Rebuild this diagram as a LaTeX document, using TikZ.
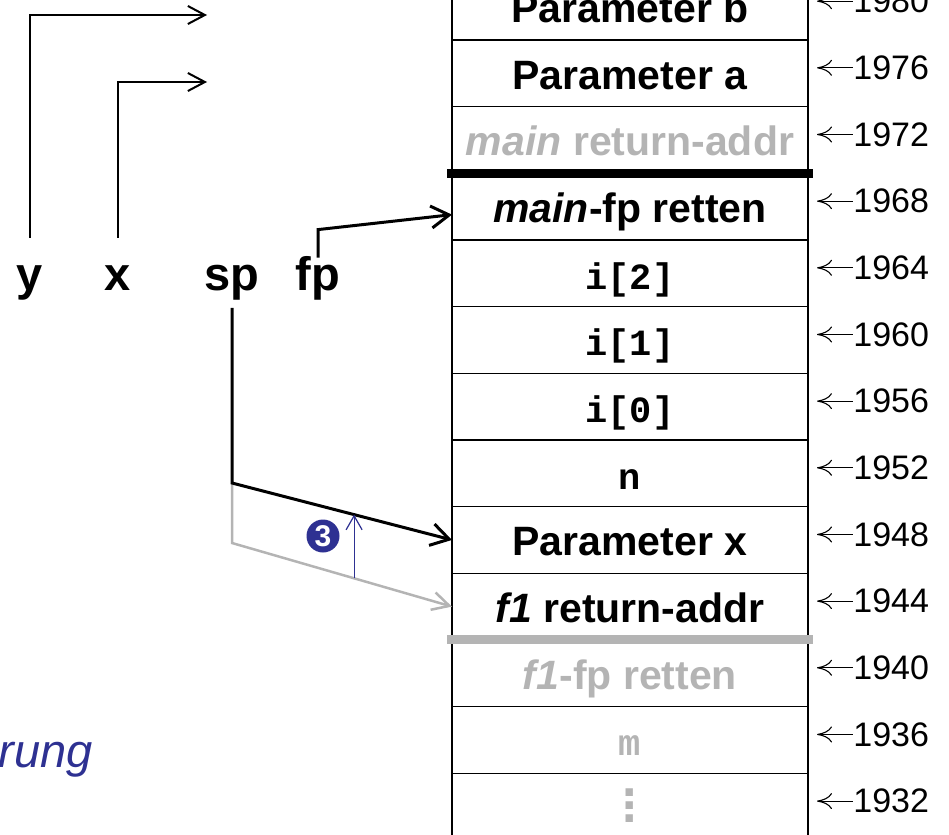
\documentclass[tikz,border=0pt]{standalone}
\usepackage{fontspec}
\setmainfont{Liberation Sans}
\setmonofont{Liberation Mono}
\usetikzlibrary{positioning,arrows.meta}

\definecolor{stackgray}{RGB}{180,180,180}
\definecolor{stepblue}{RGB}{46,49,146}

\newcommand{\stackdots}{\vbox{\baselineskip=6.5pt\lineskiplimit=-20pt\hbox{.}\hbox{.}\hbox{.}}}

\tikzset{
  cell/.style={draw, line width=0.75pt, minimum width=178pt, minimum height=33.33pt,
    inner sep=0pt, outer sep=0pt, text height=18pt, text depth=2pt,
    font=\fontsize{20.5}{24}\selectfont\bfseries},
  code/.style={cell, font=\fontsize{18.5}{22}\selectfont\ttfamily\bfseries},
  old/.style={text=stackgray},
  adr/.style={inner sep=0pt, font=\fontsize{17}{20}\selectfont},
  adrarrow/.style={line width=0.55pt, {Computer Modern Rightarrow[length=7.5pt,width=8pt]}-},
  var/.style={anchor=base, inner sep=3pt, text height=23pt, text depth=5.75pt,
    font=\fontsize{23.5}{28}\selectfont\bfseries},
  ptr/.style={line width=1pt, -{Straight Barb[length=8.5pt,width=9pt]}},
  bigptr/.style={line width=1.5pt, -{Straight Barb[length=9pt,width=11pt]}},
  stepmark/.style={circle, fill=stepblue, text=white, inner sep=0pt, minimum size=16.5pt,
    font=\fontsize{15}{15}\selectfont\bfseries},
  steparrow/.style={stepblue, line width=0.6pt, -{Straight Barb[length=7pt,width=8pt]}},
  note/.style={text=stepblue, inner sep=0pt, font=\fontsize{23.5}{28}\selectfont\itshape}
}

\begin{document}
\begin{tikzpicture}[x=0.5pt, y=-0.5pt]
\useasboundingbox (0,0) rectangle (949,835);

%% stack cells
\node[cell] (m1980) at (630,6.67) {Parameter b};
\node[cell, below=0pt of m1980] (m1976) {Parameter a};
\node[cell, old, below=0pt of m1976] (m1972) {\textit{main} return-addr};
\node[cell, below=0pt of m1972] (m1968) {\textit{main}-fp retten};
\node[code, below=0pt of m1968] (m1964) {i[2]};
\node[code, below=0pt of m1964] (m1960) {i[1]};
\node[code, below=0pt of m1960] (m1956) {i[0]};
\node[code, below=0pt of m1956] (m1952) {n};
\node[cell, below=0pt of m1952] (m1948) {Parameter x};
\node[cell, below=0pt of m1948] (m1944) {\textit{f1} return-addr};
\node[cell, old, below=0pt of m1944] (m1940) {\textit{f1}-fp retten};
\node[code, old, below=0pt of m1940] (m1936) {m};
\node[cell, old, below=0pt of m1936, font=\fontsize{26}{26}\selectfont\bfseries] (m1932) {\stackdots};

% frame borders
\draw[line width=4.5pt] ([xshift=-2.5pt]m1968.north west) -- ([xshift=2.5pt]m1968.north east);
\draw[line width=4.5pt, stackgray] ([xshift=-2.5pt]m1940.north west) -- ([xshift=2.5pt]m1940.north east);

%% addresses
\coordinate (adrtip) at (817,0);
\foreach \a in {1980,1976,...,1932}{
  \node[adr, right=22.5pt of m\a.east, yshift=2.75pt] (a\a) {\a};
  \draw[adrarrow] (adrtip |- a\a.west) -- (a\a.west);
}

%% variables
\node[var] (y) at (30,290) {y};
\node[var] (x) at (118,290) {x};
\node[var] (sp) at (232,290) {sp};
\node[var] (fp) at (318,290) {fp};

\coordinate (bval) at (207,15);
\coordinate (aval) at (207,82);
\draw[ptr] (y.north) |- (bval);
\draw[ptr] (x.north) |- (aval);

\draw[bigptr] ([yshift=-10pt]fp.north) -- ([yshift=4pt]fp.north) -- ([yshift=-4pt]m1968.west);

% old and new sp
\coordinate (spnew) at (232,483);
\coordinate (spold) at (232,543);
\draw[ptr, line width=1.25pt, stackgray] (spnew) -- (spold) -- coordinate[pos=0.555] (oldsp) (m1944.west);
\draw[bigptr] (sp.south) -- (spnew) -- coordinate[pos=0.555] (newsp) (m1948.west);

\draw[steparrow] (oldsp) -- (newsp);
\node[stepmark] (step3) at (323,536) {3};

\node[note, anchor=base east] (note) at (93,767) {rung};

\end{tikzpicture}
\end{document}
